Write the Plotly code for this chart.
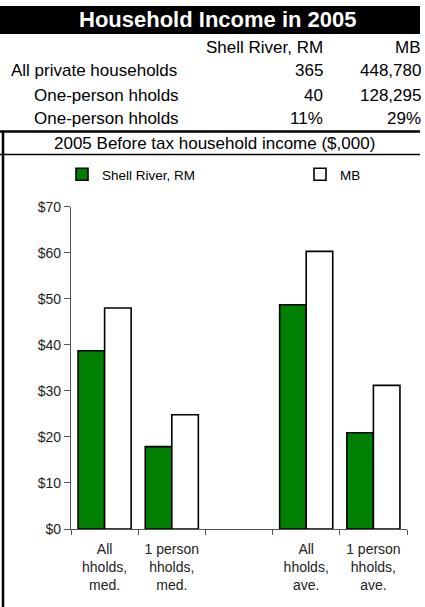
import plotly.graph_objects as go

W, H = 425, 607

# ---- data ----
title = "Household Income in 2005"
col_headers = ["Shell River, RM", "MB"]
row_labels = ["All private households", "One-person hholds", "One-person hholds"]
row_indent = [False, True, True]
shell_counts = ["365", "40", "11%"]
mb_counts = ["448,780", "128,295", "29%"]
subtitle = "2005 Before tax household income ($,000)"

categories = ["All<br>hholds,<br>med.", "1 person<br>hholds,<br>med.", " ",
              "All<br>hholds,<br>ave.", "1 person<br>hholds,<br>ave."]
shell_income = [38.7, 17.9, None, 48.7, 20.9]
mb_income = [48.0, 24.8, None, 60.3, 31.2]
series_names = ["Shell River, RM", "MB"]
y_ticks = [0, 10, 20, 30, 40, 50, 60, 70]
y_ticktext = ["$" + str(v) for v in y_ticks]


def py(y):
    return 1 - y / H


def pxx(x):
    return x / W


FONT = "Liberation Sans, Arial, sans-serif"

fig = go.Figure()
fig.add_trace(go.Bar(x=categories, y=shell_income, name=series_names[0], legend="legend",
                     marker=dict(color="#008000", line=dict(color="black", width=1.6))))
fig.add_trace(go.Bar(x=categories, y=mb_income, name=series_names[1], legend="legend2",
                     marker=dict(color="white", line=dict(color="black", width=1.6))))

shapes = []
annotations = []

# title band
shapes.append(dict(type="rect", xref="paper", yref="paper", x0=0, x1=pxx(420),
                   y0=py(34), y1=py(6), fillcolor="black", line=dict(width=0), layer="below"))
annotations.append(dict(text="<b>" + title + "</b>", x=pxx(218), y=py(20), xref="paper", yref="paper",
                        showarrow=False, xanchor="center", yanchor="middle",
                        font=dict(family=FONT, size=22, color="white")))
# column headers
for txt, xr in zip(col_headers, [325, 423]):
    annotations.append(dict(text=txt, x=pxx(xr), y=py(47), xref="paper", yref="paper",
                            showarrow=False, xanchor="right", yanchor="middle",
                            font=dict(family=FONT, size=17, color="black")))
row_y = [70, 95, 119]
for lab, ind, a, b, yy in zip(row_labels, row_indent, shell_counts, mb_counts, row_y):
    annotations.append(dict(text=lab, x=pxx(32 if ind else 9), y=py(yy), xref="paper", yref="paper",
                            showarrow=False, xanchor="left", yanchor="middle",
                            font=dict(family=FONT, size=17, color="black")))
    annotations.append(dict(text=a, x=pxx(325), y=py(yy), xref="paper", yref="paper",
                            showarrow=False, xanchor="right", yanchor="middle",
                            font=dict(family=FONT, size=17, color="black")))
    annotations.append(dict(text=b, x=pxx(423), y=py(yy), xref="paper", yref="paper",
                            showarrow=False, xanchor="right", yanchor="middle",
                            font=dict(family=FONT, size=17, color="black")))
# lines
shapes.append(dict(type="line", xref="paper", yref="paper", x0=0, x1=pxx(420), y0=py(131.5), y1=py(131.5),
                   line=dict(color="black", width=2.5)))
annotations.append(dict(text=subtitle, x=pxx(214), y=py(143.5), xref="paper", yref="paper",
                        showarrow=False, xanchor="center", yanchor="middle",
                        font=dict(family=FONT, size=17, color="black")))
shapes.append(dict(type="line", xref="paper", yref="paper", x0=0, x1=pxx(420), y0=py(154.5), y1=py(154.5),
                   line=dict(color="black", width=1.5)))
shapes.append(dict(type="line", xref="paper", yref="paper", x0=pxx(3), x1=pxx(3), y0=py(131), y1=0,
                   line=dict(color="black", width=2.5)))

legend_common = dict(orientation="h", yanchor="middle", xanchor="left",
                     font=dict(family=FONT, size=13.5, color="black"),
                     bgcolor="rgba(0,0,0,0)", borderwidth=0)

fig.update_layout(
    width=W, height=H,
    margin=dict(l=0, r=0, t=0, b=0, autoexpand=False),
    paper_bgcolor="white", plot_bgcolor="white",
    font=dict(family=FONT, size=14, color="#222"),
    barmode="group", bargap=0.21, bargroupgap=0,
    showlegend=True,
    legend=dict(x=pxx(62), y=py(174.5), **legend_common),
    legend2=dict(x=pxx(300), y=py(174.5), **legend_common),
    xaxis=dict(domain=[pxx(71), pxx(407)], type="category", automargin=False,
               showline=True, linecolor="#555", linewidth=1.2,
               ticks="outside", tickson="boundaries", ticklen=5, tickcolor="#555",
               ticklabelstandoff=7,
               tickfont=dict(family=FONT, size=14, color="#222"), showgrid=False),
    yaxis=dict(domain=[py(529), py(206.7)], range=[0, 70], tickvals=y_ticks, ticktext=y_ticktext,
               automargin=False,
               showline=True, linecolor="#555", linewidth=1.2,
               ticks="outside", ticklen=6, tickcolor="#555", showgrid=False, zeroline=False,
               tickfont=dict(family=FONT, size=14, color="#222")),
    shapes=shapes, annotations=annotations,
)

post = """
var de=document.documentElement, b=document.body;
de.style.margin='0';de.style.padding='0';de.style.overflow='hidden';
b.style.margin='0';b.style.padding='0';b.style.overflow='hidden';b.style.height='607px';
var gd=document.getElementsByClassName('plotly-graph-div')[0];
gd.style.position='absolute';gd.style.left='0px';gd.style.top='0px';
"""

fig.write_html("out.html", config={"displayModeBar": False}, post_script=post)
